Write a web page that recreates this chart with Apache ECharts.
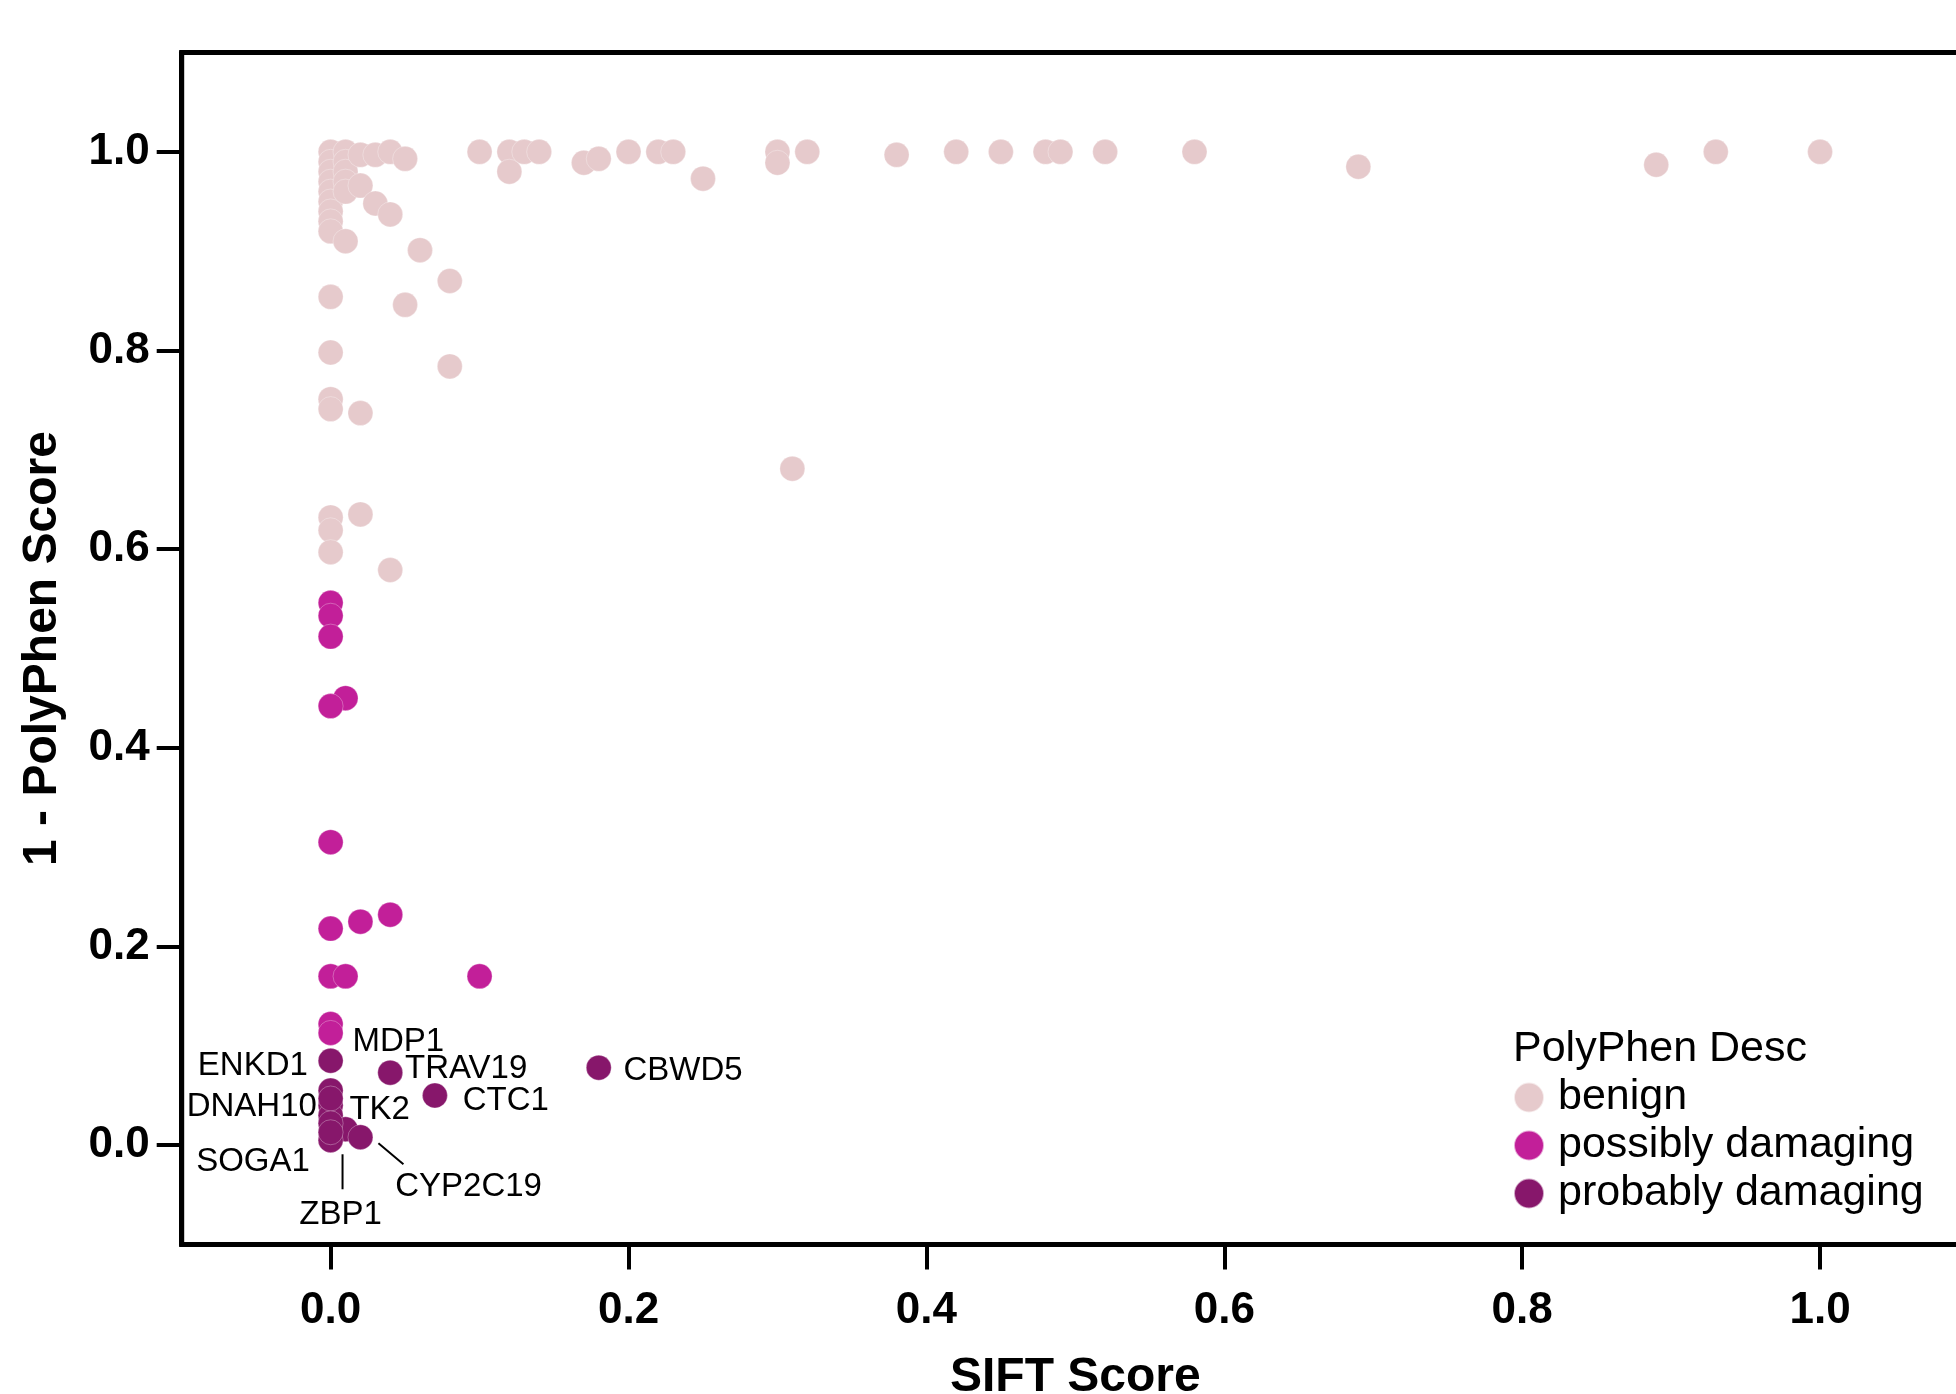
<!DOCTYPE html>
<html>
<head>
<meta charset="utf-8">
<title>SIFT vs PolyPhen</title>
<script src="https://cdn.jsdelivr.net/npm/echarts@6.0.0/dist/echarts.min.js"></script>
<style>
  html, body { margin: 0; padding: 0; background: #fff; }
  #scoreChart { width: 1956px; height: 1394px; }
</style>
</head>
<body>
<div id="scoreChart"></div>
<script>
// benign
const benignSift = [
  0, 0, 0, 0, 0, 0, 0, 0, 0, 0, 0, 0, 0, 0, 0, 0,
  0.01, 0.01, 0.01, 0.01, 0.01, 0.01,
  0.02, 0.02, 0.02, 0.02,
  0.03, 0.03,
  0.04, 0.04, 0.04,
  0.05, 0.05,
  0.06,
  0.08, 0.08,
  0.10, 0.12, 0.12, 0.13, 0.14, 0.17, 0.18, 0.20, 0.22, 0.23, 0.25,
  0.30, 0.30, 0.31, 0.32, 0.38, 0.42, 0.45, 0.48, 0.49, 0.52, 0.58,
  0.69, 0.89, 0.93, 1.0
]
const benignPoly = [
  1.0, 0.99, 0.98, 0.97, 0.96, 0.95, 0.94, 0.93, 0.92, 0.854, 0.798, 0.751, 0.741, 0.632, 0.619, 0.597,
  1.0, 0.99, 0.98, 0.97, 0.96, 0.91,
  0.997, 0.966, 0.737, 0.635,
  0.997, 0.948,
  1.0, 0.937, 0.579,
  0.993, 0.846,
  0.901,
  0.87, 0.784,
  1.0, 1.0, 0.98, 1.0, 1.0, 0.989, 0.993, 1.0, 1.0, 1.0, 0.973,
  1.0, 0.989, 0.681, 1.0, 0.997, 1.0, 1.0, 1.0, 1.0, 1.0, 1.0,
  0.985, 0.987, 1.0, 1.0
]

// possibly damaging
const possiblySift = [0, 0, 0, 0.01, 0, 0, 0, 0.02, 0.04, 0, 0.01, 0.10, 0, 0]
const possiblyPoly = [0.546, 0.533, 0.512, 0.45, 0.442, 0.305, 0.218, 0.225, 0.232, 0.17, 0.17, 0.17, 0.122, 0.113]

// probably damaging (labelled genes)
const probablyGenes = ['ENKD1', 'MDP1', 'TRAV19', 'CBWD5', 'CTC1', 'DNAH10', 'TK2', 'ZBP1', 'CYP2C19', 'SOGA1', '', '', '']
const probablySift = [0, 0, 0.04, 0.18, 0.07, 0, 0, 0.01, 0.02, 0, 0, 0, 0]
const probablyPoly = [0.085, 0.055, 0.073, 0.078, 0.05, 0.04, 0.03, 0.016, 0.008, 0.005, 0.047, 0.022, 0.013]

const tickValues = [0, 0.2, 0.4, 0.6, 0.8, 1.0]
const categoryNames = ['benign', 'possibly damaging', 'probably damaging']

// where each gene label sits around its point
const labelPlace = {
  ENKD1:   { position: 'left',   distance: 10, offset: [0, 5] },
  MDP1:    { position: 'right',  distance: 9,  offset: [0, -49] },
  TRAV19:  { position: 'right',  distance: 2,  offset: [0, -4] },
  CBWD5:   { position: 'right',  distance: 12, offset: [0, 3] },
  CTC1:    { position: 'right',  distance: 15, offset: [0, 5] },
  DNAH10:  { position: 'left',   distance: 1,  offset: [0, 1] },
  TK2:     { position: 'right',  distance: 6,  offset: [0, -5] },
  SOGA1:   { position: 'left',   distance: 8,  offset: [0, 22] },
  ZBP1:    { position: 'bottom', distance: 56, offset: [-5, 0] },
  CYP2C19: { position: 'right',  distance: 22, offset: [0, 50] }
}
// leader lines (pixel offsets from the point, start -> end)
const leaders = {
  ZBP1:    [[-3, 25], [-3, 60]],
  CYP2C19: [[18, 6], [43, 27]]
}

const font = 'Liberation Sans, Arial, Helvetica, sans-serif'

function pairs (xs, ys) {
  return xs.map((x, i) => [x, ys[i]])
}

const probablyData = probablySift.map((x, i) => {
  const gene = probablyGenes[i]
  const item = { value: [x, probablyPoly[i]], name: gene }
  const place = labelPlace[gene]
  if (gene && place) {
    item.label = {
      show: true,
      position: place.position,
      distance: place.distance,
      offset: place.offset
    }
  }
  return item
})

const dotStyle = { opacity: 1, borderColor: 'rgba(255,255,255,0.6)', borderWidth: 0.5 }

let chart = echarts.init(document.getElementById('scoreChart'))
chart.setOption({
  animation: false,
  color: ['#E6CACC', '#C21F99', '#87176B'],
  grid: {
    left: 181.7,
    top: 52.5,
    bottom: 149.5,
    right: -13,
    containLabel: false,
    outerBoundsMode: 'none',
    show: true,
    borderColor: '#000',
    borderWidth: 5
  },
  title: {
    text: 'PolyPhen Desc',
    left: 1513,
    top: 1028,
    padding: 0,
    textStyle: { fontFamily: font, fontSize: 43, fontWeight: 'normal', color: '#000', lineHeight: 43 }
  },
  legend: {
    data: categoryNames,
    orient: 'vertical',
    left: 1513,
    top: 1076,
    padding: 0,
    icon: 'circle',
    itemWidth: 30,
    itemHeight: 30,
    itemGap: 5,
    textStyle: { fontFamily: font, fontSize: 43, color: '#000', padding: [0, 0, 0, 9] }
  },
  xAxis: {
    type: 'value',
    min: -0.1,
    max: 1.1,
    name: 'SIFT Score',
    nameLocation: 'middle',
    nameGap: 109,
    nameTextStyle: { fontFamily: font, fontSize: 48, fontWeight: 'bold', color: '#000' },
    axisLine: { onZero: false, lineStyle: { color: '#000', width: 5 } },
    axisTick: { show: true, customValues: tickValues, length: 25, lineStyle: { color: '#000', width: 4 } },
    axisLabel: {
      customValues: tickValues,
      margin: 44,
      fontFamily: font,
      fontSize: 44,
      fontWeight: 'bold',
      color: '#000',
      formatter: v => v.toFixed(1)
    },
    splitLine: { show: false }
  },
  yAxis: {
    type: 'value',
    min: -0.1,
    max: 1.1,
    name: '1 - PolyPhen Score',
    nameLocation: 'middle',
    nameGap: 115,
    nameTextStyle: { fontFamily: font, fontSize: 48, fontWeight: 'bold', color: '#000' },
    axisLine: { onZero: false, lineStyle: { color: '#000', width: 5 } },
    axisTick: { show: true, customValues: tickValues, length: 25, lineStyle: { color: '#000', width: 4 } },
    axisLabel: {
      customValues: tickValues,
      margin: 32,
      fontFamily: font,
      fontSize: 44,
      fontWeight: 'bold',
      color: '#000',
      formatter: v => v.toFixed(1)
    },
    splitLine: { show: false }
  },
  series: [
    {
      name: 'benign',
      type: 'scatter',
      symbolSize: 25,
      itemStyle: dotStyle,
      data: pairs(benignSift, benignPoly)
    },
    {
      name: 'possibly damaging',
      type: 'scatter',
      symbolSize: 25,
      itemStyle: dotStyle,
      data: pairs(possiblySift, possiblyPoly)
    },
    {
      name: 'probably damaging',
      type: 'scatter',
      symbolSize: 25,
      itemStyle: dotStyle,
      label: {
        show: false,
        formatter: '{b}',
        fontFamily: font,
        fontSize: 33,
        color: '#000',
        opacity: 1
      },
      data: probablyData
    }
  ]
})

// leader lines for the two labels pushed below the cluster
let leaderLines = []
Object.keys(leaders).forEach(gene => {
  const i = probablyGenes.indexOf(gene)
  const p = chart.convertToPixel({ seriesIndex: 2 }, [probablySift[i], probablyPoly[i]])
  const [a, b] = leaders[gene]
  leaderLines.push({
    type: 'line',
    shape: { x1: p[0] + a[0], y1: p[1] + a[1], x2: p[0] + b[0], y2: p[1] + b[1] },
    style: { stroke: '#000', lineWidth: 2 },
    z: 10
  })
})
chart.setOption({ graphic: leaderLines })
</script>
</body>
</html>
